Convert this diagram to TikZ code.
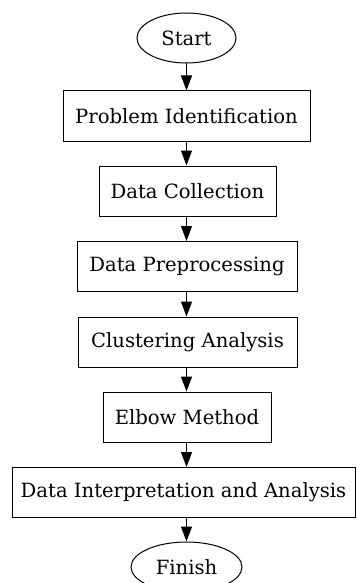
\documentclass[tikz,border=0pt]{standalone}
\usepackage{fontspec}
\setmainfont{DejaVu Serif}
\usetikzlibrary{arrows.meta,shapes.geometric}
\tikzset{>={Triangle[length=15pt,width=11pt]},
  term/.style={draw,ellipse,line width=1pt,inner sep=0pt,minimum height=50pt},
  proc/.style={draw,rectangle,line width=1pt,inner sep=0pt,minimum height=50pt}}

\begin{document}
\begin{tikzpicture}[x=1pt,y=-1pt,font=\fontsize{19.6}{23}\selectfont]
            \useasboundingbox (0,0) rectangle (356,583);
            \node[term,minimum width=99pt] (start) at (186.5,38) {Start};
            \node[proc,minimum width=247pt] (ident) at (186.5,116) {Problem Identification};
            \node[proc,minimum width=177pt] (collect) at (187.5,191) {Data Collection};
            \node[proc,minimum width=220pt] (prep) at (187,266.5) {Data Preprocessing};
            \node[proc,minimum width=219pt] (cluster) at (187.5,342) {Clustering Analysis};
            \node[proc,minimum width=168pt] (elbow) at (187,417) {Elbow Method};
            \node[proc,minimum width=343pt] (interp) at (183.5,492.5) {Data Interpretation and Analysis};
            \node[term,minimum width=111pt] (finish) at (186.5,567) {Finish};
            \foreach \a/\b in {start/ident,ident/collect,collect/prep,prep/cluster,cluster/elbow,elbow/interp,interp/finish}
                \draw[->,line width=1pt] (\a.south -| finish) -- (\b.north -| finish);
        \end{tikzpicture}
\end{document}
